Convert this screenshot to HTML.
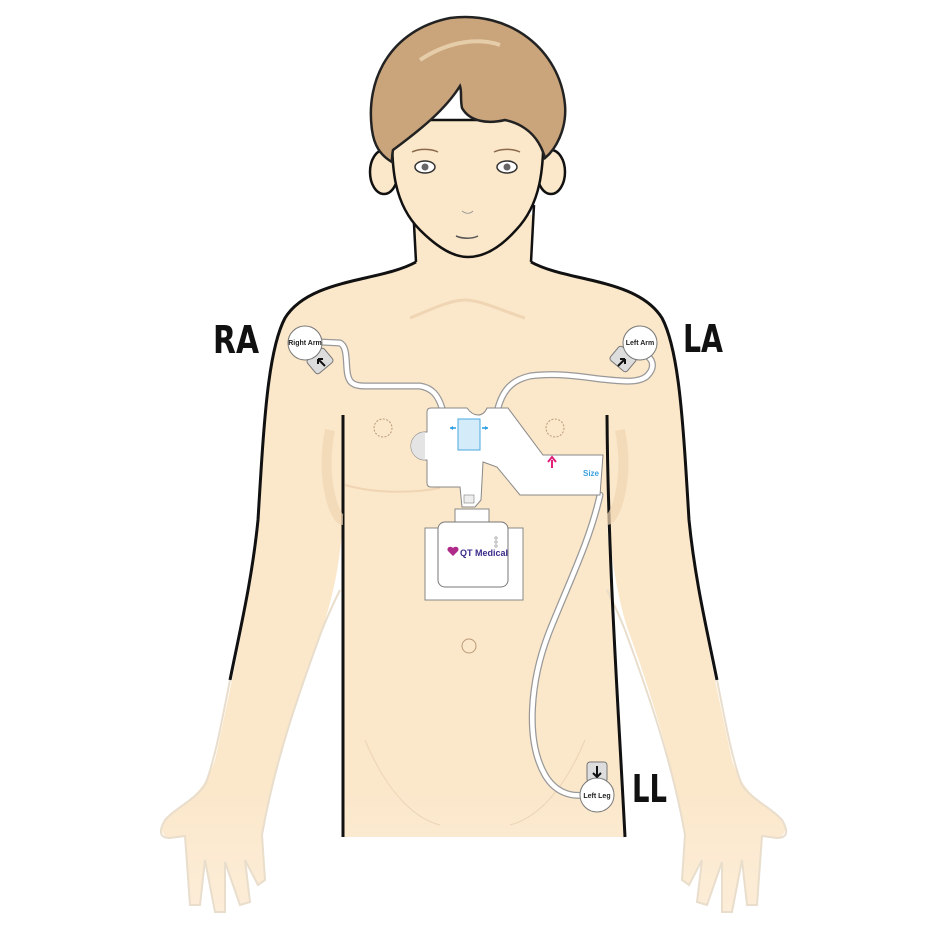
<!DOCTYPE html>
<html><head><meta charset="utf-8"><style>html,body{margin:0;padding:0;background:#fff}svg{display:block}</style></head>
<body>
<svg width="931" height="931" viewBox="0 0 931 931" xmlns="http://www.w3.org/2000/svg" font-family="Liberation Sans, sans-serif">
<defs>
<linearGradient id="sk" x1="0" y1="0" x2="0" y2="1">
<stop offset="0" stop-color="#fbe7c9"/><stop offset="0.8" stop-color="#fbe7c9"/><stop offset="1" stop-color="#fcedd8"/>
</linearGradient>
</defs>
<rect width="931" height="931" fill="#fff"/>
<path d="M413 215 L416 262 C380 282 310 278 285 318 C268 350 264 420 258 520 C250 600 232 680 215 760 C205 790 190 800 172 812 C160 822 158 835 170 838 L185 836 L190 905 L200 905 L205 860 L215 912 L225 912 L225 862 L240 905 L250 902 L245 860 L258 885 L265 880 L262 835 C275 760 300 690 322 630 C335 590 340 560 343 520 L343 837 L626 837 L607 520 C612 560 618 600 628 630 C650 690 672 760 685 835 L682 880 L690 885 L702 860 L697 902 L707 905 L722 862 L722 912 L732 912 L742 860 L747 905 L757 905 L762 836 L777 838 C789 835 787 822 775 812 C757 800 742 790 732 760 C715 680 697 600 689 520 C683 420 679 350 662 318 C637 278 567 282 531 262 L534 215 Z" fill="url(#sk)"/>
<path d="M416 262 C380 282 310 278 285 318 C268 350 264 420 258 520 C252 580 240 630 230 680" fill="none" stroke="#111" stroke-width="3"/>
<path d="M531 262 C567 282 637 278 662 318 C679 350 683 420 689 520 C695 580 707 630 717 680" fill="none" stroke="#111" stroke-width="3"/>
<path d="M230 680 C222 720 215 760 205 785 C195 800 175 808 165 820 C158 832 160 838 170 838 L185 836 L190 905 L200 905 L205 860 L215 912 L225 912 L225 862 L240 905 L250 902 L245 860 L258 885 L265 880 L262 835 C275 760 300 690 322 630 C330 610 335 600 340 590" fill="none" stroke="#e9ddcc" stroke-width="2"/>
<path d="M717 680 C725 720 732 760 742 785 C752 800 772 808 782 820 C789 832 787 838 777 838 L762 836 L757 905 L747 905 L742 860 L732 912 L722 912 L722 862 L707 905 L697 902 L702 860 L689 885 L682 880 L685 835 C672 760 647 690 625 630 C617 610 612 600 607 590" fill="none" stroke="#e9ddcc" stroke-width="2"/>
<path d="M343 415 L343 837" stroke="#111" stroke-width="3"/>
<path d="M607 415 C608 560 618 700 625 837" fill="none" stroke="#111" stroke-width="3"/>
<path d="M330 430 C320 480 335 520 343 520" fill="none" stroke="#f0d6b3" stroke-width="10" opacity="0.7"/>
<path d="M620 430 C630 480 615 520 607 520" fill="none" stroke="#f0d6b3" stroke-width="10" opacity="0.7"/>
<path d="M345 485 C380 495 420 492 440 488" fill="none" stroke="#efd5b3" stroke-width="2"/>
<path d="M410 318 C430 310 450 300 465 300 C480 300 500 310 525 318" fill="none" stroke="#efd5b3" stroke-width="3"/>
<path d="M365 740 C390 800 420 820 440 825" fill="none" stroke="#ecd4b4" stroke-width="1"/>
<path d="M585 740 C560 800 530 820 510 825" fill="none" stroke="#ecd4b4" stroke-width="1"/>
<circle cx="383" cy="428" r="9" fill="none" stroke="#b99a78" stroke-dasharray="2 1.5"/>
<circle cx="555" cy="428" r="9" fill="none" stroke="#b99a78" stroke-dasharray="2 1.5"/>
<circle cx="469" cy="646" r="7" fill="none" stroke="#b99a78" stroke-width="1"/>
<path d="M413 205 L416 262 M534 205 L531 262" stroke="#111" stroke-width="2.5" fill="none"/>
<ellipse cx="384" cy="172" rx="14" ry="22" fill="#fbe7c9" stroke="#111" stroke-width="2.5"/>
<ellipse cx="551" cy="172" rx="14" ry="22" fill="#fbe7c9" stroke="#111" stroke-width="2.5"/>
<path d="M393 120 C390 170 395 205 420 230 C440 250 455 257 468 257 C482 257 498 250 516 230 C540 205 545 170 543 120 Z" fill="#fbe7c9" stroke="#111" stroke-width="2.5"/>
<path d="M372 130 C365 80 390 30 450 18 C510 10 560 50 565 105 C567 130 555 150 545 158 C540 140 528 125 505 120 C488 124 470 122 462 108 C460 98 462 92 460 86 C445 110 420 130 393 150 C392 155 392 158 392 162 C380 155 374 145 372 130 Z" fill="#caa47b" stroke="#222" stroke-width="2.5"/>
<path d="M420 60 C450 40 480 38 500 45" stroke="#e6cda9" stroke-width="4" fill="none"/>
<ellipse cx="425" cy="167" rx="10" ry="6" fill="#fff" stroke="#333" stroke-width="1.5"/>
<circle cx="425" cy="167" r="3.5" fill="#666"/>
<ellipse cx="507" cy="167" rx="10" ry="6" fill="#fff" stroke="#333" stroke-width="1.5"/>
<circle cx="507" cy="167" r="3.5" fill="#666"/>
<path d="M412 152 C420 148 432 149 438 152 M494 152 C500 149 512 148 520 152" stroke="#8a6a4a" stroke-width="1.5" fill="none"/>
<path d="M462 211 C466 214 470 214 473 211" stroke="#999" fill="none"/>
<path d="M456 236 C463 239 472 239 478 236" stroke="#555" stroke-width="1.5" fill="none"/>
<g fill="none" stroke-linecap="round" stroke-linejoin="round">
<path id="c1" d="M320 342 L340 343 C347 346 346 360 347 370 C348 382 352 386 365 386 L420 386 C432 388 438 395 442 408"/>
<path id="c2" d="M498 408 C503 390 512 380 530 376 C560 372 590 378 600 379 C620 381 640 384 648 375 C656 366 652 358 645 355"/>
<path id="c3" d="M600 495 C590 540 570 580 550 630 C530 680 525 740 545 775 C555 792 570 797 585 795"/>
</g>
<g fill="none" stroke="#999" stroke-width="7" stroke-linecap="round"><use href="#c1"/><use href="#c2"/><use href="#c3"/></g>
<g fill="none" stroke="#fff" stroke-width="4.5" stroke-linecap="round"><use href="#c1"/><use href="#c2"/><use href="#c3"/></g>
<g stroke="#777" stroke-width="1">
<rect x="309" y="352" width="22" height="18" rx="3" fill="#ddd" transform="rotate(-40 320 361)"/>
<circle cx="305" cy="343" r="17" fill="#fff"/>
<rect x="612" y="350" width="22" height="18" rx="3" fill="#ddd" transform="rotate(40 623 359)"/>
<circle cx="640" cy="343" r="17" fill="#fff"/>
<rect x="587" y="762" width="20" height="20" rx="3" fill="#ddd"/>
<circle cx="597" cy="795" r="17" fill="#fff"/>
</g>
<g font-size="7" font-weight="bold" fill="#222" text-anchor="middle">
<text x="305" y="345">Right Arm</text><text x="640" y="345">Left Arm</text><text x="597" y="798">Left Leg</text>
</g>
<path d="M325 366 L318 359 M318 359 l0 5 M318 359 l5 0" stroke="#111" stroke-width="2" fill="none"/>
<path d="M618 366 L625 359 M625 359 l-5 0 M625 359 l0 5" stroke="#111" stroke-width="2" fill="none"/>
<path d="M597 766 L597 777 M593 773 L597 777 L601 773" stroke="#111" stroke-width="2" fill="none"/>
<path d="M427 412 Q427 408 431 408 L467 408 Q472 415 478 415 Q484 415 487 408 L508 408 L543 455 L603 455 L600 495 L520 495 L497 467 L483 462 L481 500 L475 507 L462 507 L460 487 L431 487 Q427 487 427 483 L427 460 L425 460 A14 14 0 0 1 425 432 L427 432 Z" fill="#fff" stroke="#888" stroke-width="1"/>
<path d="M425 432 A14 14 0 0 0 425 460 Z" fill="#e4e4e4"/>
<rect x="458" y="419" width="22" height="31" fill="#d4ecfa" stroke="#4aa8e0" stroke-width="1"/>
<path d="M450 428 L456 428 M488 428 L482 428" stroke="#2a9be0" stroke-width="1.5"/>
<path d="M450 428 l3 -2 v4 z M488 428 l-3 -2 v4 z" fill="#2a9be0"/>
<path d="M552 468 L552 460 M548 462 L552 457 L556 462" stroke="#e0207a" stroke-width="2" fill="none"/>
<text x="583" y="476" font-size="8" fill="#3aa0e0" font-weight="bold">Size</text>
<rect x="464" y="495" width="10" height="8" fill="#eee" stroke="#666" stroke-width="0.5"/>
<rect x="455" y="509" width="34" height="13" fill="#fff" stroke="#888"/>
<rect x="425" y="528" width="98" height="72" fill="#fff" stroke="#888"/>
<rect x="438" y="522" width="70" height="65" rx="7" fill="#fff" stroke="#777"/>
<path d="M453 548 c-3 -3 -7 0 -5 3 l5 5 l5 -5 c2 -3 -2 -6 -5 -3z" fill="#b02a8a"/>
<text x="460" y="556" font-size="9" font-weight="bold" fill="#3b2a8a">QT Medical</text>
<g fill="none" stroke="#888" stroke-width="0.6"><circle cx="496" cy="538" r="1.2"/><circle cx="496" cy="542" r="1.2"/><circle cx="496" cy="546" r="1.2"/></g>
<g font-family="DejaVu Sans Condensed, DejaVu Sans, sans-serif" font-weight="bold" font-size="38" fill="#111">
<text x="213" y="353" textLength="46" lengthAdjust="spacingAndGlyphs">RA</text>
<text x="683" y="352" textLength="40" lengthAdjust="spacingAndGlyphs">LA</text>
<text x="632" y="802" textLength="35" lengthAdjust="spacingAndGlyphs">LL</text>
</g>
</svg>
</body></html>
